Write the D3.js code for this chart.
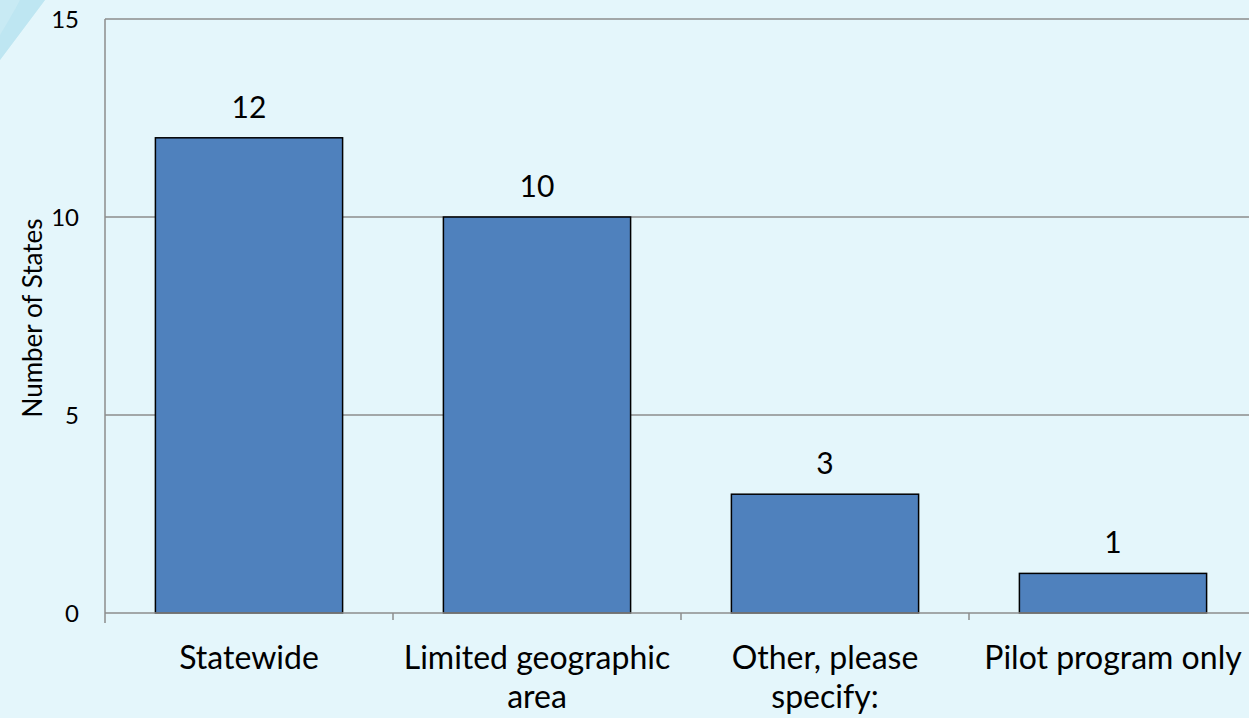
<!DOCTYPE html>
<html><head><meta charset="utf-8">
<script src="https://cdn.jsdelivr.net/npm/d3@7"></script>
<style>body{margin:0;background:#e4f6fb;}svg{display:block;}</style>
</head><body>
<svg id="c" width="1249" height="718"></svg>
<script>
const categories = ["Statewide", "Limited geographic area", "Other, please specify:", "Pilot program only"];
const categoryLines = [["Statewide"], ["Limited geographic", "area"], ["Other, please", "specify:"], ["Pilot program only"]];
const values = [12, 10, 3, 1];
const yTicks = [0, 5, 10, 15];
const yTitle = "Number of States";

const svg = d3.select("#c");
const W = 1249, H = 718;
const m = {left: 105, top: 19, right: -8, bottom: 105};
svg.append("rect").attr("width", W).attr("height", H).attr("fill", "#e4f6fb");
// decorative swoosh top-left
svg.append("path").attr("d", "M0,0 L45,0 C30,20 15,40 0,60 Z").attr("fill", "#c4e9f3").attr("opacity", 0.9);
svg.append("path").attr("d", "M0,60 C15,40 30,20 45,0 L20,0 C12,15 6,25 0,35 Z").attr("fill", "#b8e3f0").attr("opacity", 0.6);

const x = d3.scaleBand().domain(categories).range([m.left, W - m.right]).paddingInner(0.35).paddingOuter(0.175);
const y = d3.scaleLinear().domain([0, 15]).range([H - m.bottom, m.top]);

const g = svg.append("g");
// gridlines
g.selectAll(".grid").data(yTicks.filter(d => d > 0)).join("line")
  .attr("x1", m.left).attr("x2", W).attr("y1", d => y(d)).attr("y2", d => y(d))
  .attr("stroke", "#8c8c8c").attr("stroke-width", 1.5);

// bars
g.selectAll(".bar").data(values).join("rect")
  .attr("x", (d, i) => x(categories[i])).attr("width", x.bandwidth())
  .attr("y", d => y(d)).attr("height", d => y(0) - y(d))
  .attr("fill", "#4f81bd").attr("stroke", "#000").attr("stroke-width", 1.5);

// axes lines
g.append("line").attr("x1", m.left).attr("x2", m.left).attr("y1", y(15)).attr("y2", y(0) + 10).attr("stroke", "#8c8c8c").attr("stroke-width", 1.5);
g.append("line").attr("x1", m.left).attr("x2", W).attr("y1", y(0)).attr("y2", y(0)).attr("stroke", "#8c8c8c").attr("stroke-width", 1.5);
// x ticks at category boundaries
const bounds = categories.map((c, i) => m.left + i * (W - m.right - m.left) / categories.length);
g.selectAll(".xt").data(bounds.slice(1)).join("line")
  .attr("x1", d => d).attr("x2", d => d).attr("y1", y(0)).attr("y2", y(0) + 7)
  .attr("stroke", "#8c8c8c").attr("stroke-width", 1.5);

const font = "Lato, 'Open Sans', sans-serif";
// y tick labels
g.selectAll(".yl").data(yTicks).join("text")
  .attr("x", 79).attr("y", d => y(d)).attr("dy", "0.36em").attr("text-anchor", "end")
  .attr("font-family", font).attr("font-size", 24).attr("fill", "#000").text(d => d);
// y title
svg.append("text").attr("transform", `translate(33,${(y(0) + y(15)) / 2 + 2}) rotate(-90)`)
  .attr("text-anchor", "middle").attr("dy", "0.36em").attr("font-family", font).attr("font-size", 26).text(yTitle);

// value labels
g.selectAll(".vl").data(values).join("text")
  .attr("x", (d, i) => x(categories[i]) + x.bandwidth() / 2).attr("y", d => y(d) - 20)
  .attr("text-anchor", "middle").attr("font-family", font).attr("font-size", 30).text(d => d);

// category labels
categoryLines.forEach((lines, i) => {
  const t = g.append("text").attr("x", x(categories[i]) + x.bandwidth() / 2).attr("y", 669)
    .attr("text-anchor", "middle").attr("font-family", font).attr("font-size", 32);
  lines.forEach((l, j) => t.append("tspan").attr("x", x(categories[i]) + x.bandwidth() / 2).attr("dy", j ? 39 : 0).text(l));
});
</script>
</body></html>
